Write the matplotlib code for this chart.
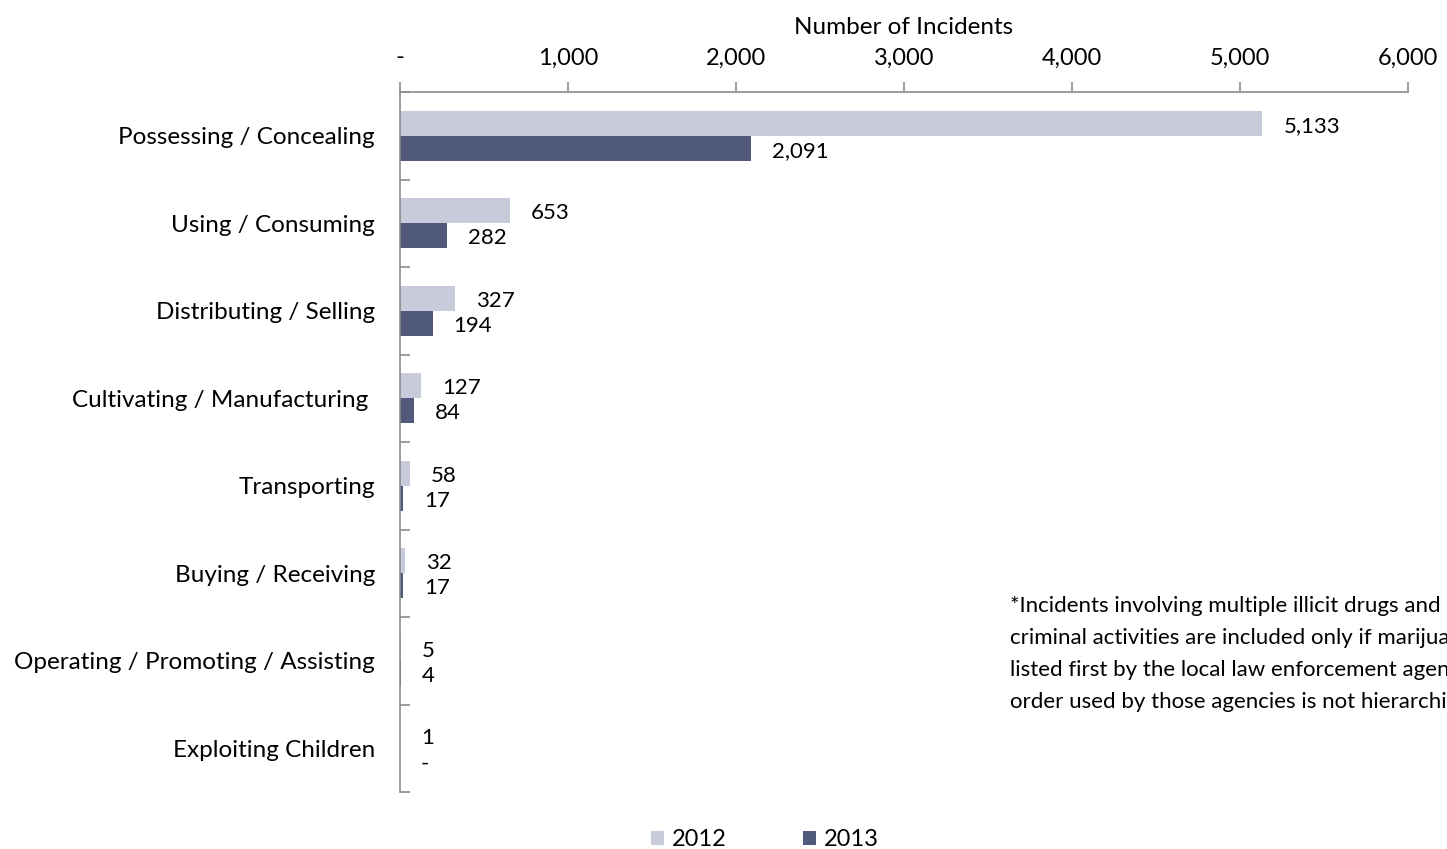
import matplotlib
matplotlib.use("Agg")
import matplotlib.pyplot as plt
import numpy as np

categories = ["Possessing / Concealing", "Using / Consuming", "Distributing / Selling",
              "Cultivating / Manufacturing ", "Transporting", "Buying / Receiving",
              "Operating / Promoting / Assisting", "Exploiting Children"]
vals_2012 = [5133, 653, 327, 127, 58, 32, 5, 1]
vals_2013 = [2091, 282, 194, 84, 17, 17, 4, 0]
series_names = ["2012", "2013"]
xticks = [0, 1000, 2000, 3000, 4000, 5000, 6000]
xtick_labels = ["-", "1,000", "2,000", "3,000", "4,000", "5,000", "6,000"]
footnote = ["*Incidents involving multiple illicit drugs and",
            "criminal activities are included only if marijuana was",
            "listed first by the local law enforcement agency. The",
            "order used by those agencies is not hierarchical."]

plt.rcParams['font.family'] = ['Lato', 'DejaVu Sans']
c12 = "#C8CCDA"
c13 = "#525A7C"
grey = "#8C8C8C"

fig = plt.figure(figsize=(14.47, 8.49), dpi=100)
ax = fig.add_axes([400/1447, 1-792/849, 1008/1447, 700/849])

n = len(categories)
y = np.arange(n)
h = 0.286
ax.barh(y - h/2, vals_2012, height=h, color=c12, label=series_names[0])
ax.barh(y + h/2, vals_2013, height=h, color=c13, label=series_names[1])
ax.set_ylim(n - 0.5, -0.5)
ax.set_xlim(0, 6000)

def fmt(v):
    return "-" if v == 0 else f"{v:,}"

off = 21 * 6000 / 1008
for i in range(n):
    ax.text(vals_2012[i] + off, y[i] - h/2 + 0.03, fmt(vals_2012[i]), va="center", ha="left", fontsize=16)
    ax.text(vals_2013[i] + off, y[i] + h/2 + 0.03, fmt(vals_2013[i]), va="center", ha="left", fontsize=16)

ax.xaxis.tick_top()
ax.xaxis.set_label_position("top")
ax.set_xticks(xticks)
ax.set_xticklabels(xtick_labels, fontsize=17)
ax.tick_params(axis="x", direction="out", length=7, color=grey, width=1.2, pad=10)
ax.set_xlabel("Number of Incidents", fontsize=17.5, labelpad=10)

ax.set_yticks(y)
ax.set_yticklabels(categories, fontsize=17.5)
ax.tick_params(axis="y", length=0, pad=18)
ax.set_yticks(np.arange(n + 1) - 0.5, minor=True)
ax.tick_params(axis="y", which="minor", direction="in", length=7, color=grey, width=1.2)

for s in ["right", "bottom"]:
    ax.spines[s].set_visible(False)
for s in ["top", "left"]:
    ax.spines[s].set_color(grey)
    ax.spines[s].set_linewidth(1.2)

for k, line in enumerate(footnote):
    fig.text(1010/1447, 1 - (606 + 32*k)/849, line, fontsize=16, ha="left", va="center")

leg = fig.legend(loc="center", bbox_to_anchor=(765/1447, 1 - 840/849), ncol=2, frameon=False,
                 fontsize=17, handlelength=0.55, handleheight=0.55, handletextpad=0.35, columnspacing=3.2)

fig.savefig("out.png", dpi=100)
